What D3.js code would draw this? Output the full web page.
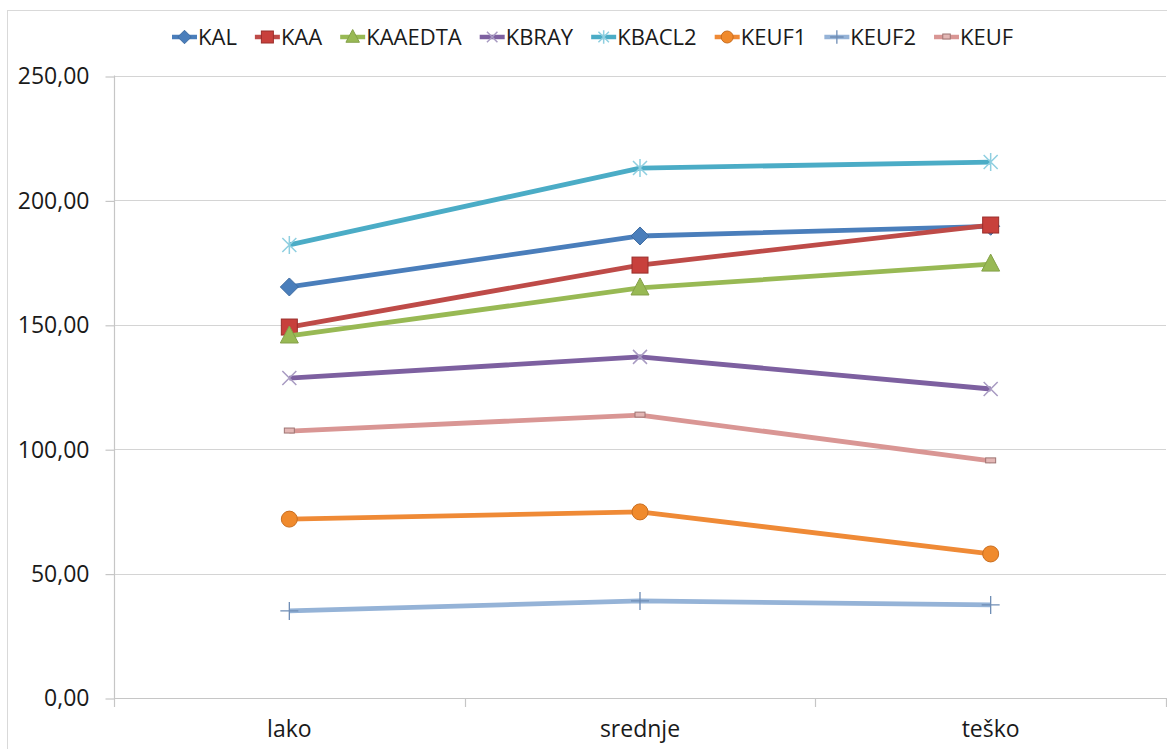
<!DOCTYPE html>
<html><head><meta charset="utf-8">
<script src="https://cdn.jsdelivr.net/npm/d3@7"></script>
<style>
body{margin:0;background:#fff;}
text{font-family:"Open Sans","Noto Sans",sans-serif;fill:#1a1a1a;}
</style></head>
<body>
<svg id="c" width="1167" height="749"></svg>
<script>
const categories = ["lako", "srednje", "teško"];
const seriesNames = ["KAL", "KAA", "KAAEDTA", "KBRAY", "KBACL2", "KEUF1", "KEUF2", "KEUF"];
const KAL     = [165.2, 185.7, 189.6];
const KAA     = [149.1, 174.0, 190.1];
const KAAEDTA = [145.5, 164.8, 174.4];
const KBRAY   = [128.6, 137.1, 124.2];
const KBACL2  = [182.1, 213.0, 215.4];
const KEUF1   = [71.9, 74.8, 57.9];
const KEUF2   = [35.0, 39.0, 37.4];
const KEUF    = [107.3, 113.7, 95.3];
const yTicks = [0, 50, 100, 150, 200, 250];

const values = [KAL, KAA, KAAEDTA, KBRAY, KBACL2, KEUF1, KEUF2, KEUF];
const colors = ["#4a7ebb", "#be4b48", "#98b954", "#7d60a0", "#4bacc6", "#ef8a36", "#95b3d7", "#d99694"];
const markers = ["diamond", "square", "triangle", "x", "star", "circle", "plus", "dash"];

const svg = d3.select("#c");
const L = 114, R = 1166, T = 76, B = 698;

svg.append("rect").attr("x", 7.5).attr("y", 10.5).attr("width", 1170).attr("height", 760)
  .attr("fill", "none").attr("stroke", "#d9d9d9").attr("stroke-width", 1);

const x = d3.scaleBand().domain(categories).range([L, R]);
const y = d3.scaleLinear().domain([0, 250]).range([B, T]);

svg.append("g").selectAll("line").data(yTicks.filter(d => d > 0)).join("line")
  .attr("x1", L).attr("x2", R).attr("y1", d => Math.round(y(d)) + 0.5).attr("y2", d => Math.round(y(d)) + 0.5)
  .attr("stroke", "#d4d4d4").attr("stroke-width", 1.2);

const yAxis = svg.append("g").attr("transform", `translate(${L + 0.5},0.5)`)
  .call(d3.axisLeft(y).tickValues(yTicks).tickSize(9).tickPadding(16)
    .tickFormat(d => d3.format(".2f")(d).replace(".", ",")));
yAxis.selectAll("path,line").attr("stroke", "#c6c6c6").attr("stroke-width", 1.2);
yAxis.select(".domain").attr("d", `M0,${T - 1}V${B}`);
yAxis.selectAll("text").attr("font-size", 23).style("fill", "#1a1a1a").attr("font-family", "Open Sans");

const xAxis = svg.append("g").attr("transform", `translate(0,${B + 0.5})`)
  .call(d3.axisBottom(x).tickSize(0).tickPadding(22));
xAxis.select(".domain").attr("d", `M${L},0H${R}`).attr("stroke", "#c6c6c6").attr("stroke-width", 1.2);
xAxis.selectAll("text").attr("font-size", 23).style("fill", "#1a1a1a").attr("font-family", "Open Sans");
const bounds = categories.map(c => x(c)).concat([R]);
svg.append("g").selectAll("line").data(bounds).join("line")
  .attr("x1", d => Math.round(d) + 0.5).attr("x2", d => Math.round(d) + 0.5)
  .attr("y1", B).attr("y2", B + 9).attr("stroke", "#c6c6c6").attr("stroke-width", 1.2);

function drawMarker(g, type, color, cx, cy, s) {
  const k = s || 1;
  if (type === "diamond") {
    g.append("path").attr("d", `M${cx},${cy - 9 * k}L${cx + 9 * k},${cy}L${cx},${cy + 9 * k}L${cx - 9 * k},${cy}Z`).attr("fill", color).attr("stroke", d3.color(color).darker(0.4));
  } else if (type === "square") {
    g.append("rect").attr("x", cx - 8 * k).attr("y", cy - 8 * k).attr("width", 16 * k).attr("height", 16 * k).attr("fill", "#c8403c").attr("stroke", "#9a2e2b");
  } else if (type === "triangle") {
    g.append("path").attr("d", `M${cx},${cy - 10 * k}L${cx + 9 * k},${cy + 7 * k}L${cx - 9 * k},${cy + 7 * k}Z`).attr("fill", color).attr("stroke", d3.color(color).darker(0.4));
  } else if (type === "x") {
    g.append("path").attr("d", `M${cx - 7 * k},${cy - 7 * k}L${cx + 7 * k},${cy + 7 * k}M${cx + 7 * k},${cy - 7 * k}L${cx - 7 * k},${cy + 7 * k}`).attr("stroke", "#a89bc2").attr("stroke-width", 1.5);
  } else if (type === "star") {
    g.append("path").attr("d", `M${cx - 7 * k},${cy - 7 * k}L${cx + 7 * k},${cy + 7 * k}M${cx + 7 * k},${cy - 7 * k}L${cx - 7 * k},${cy + 7 * k}M${cx},${cy - 9 * k}V${cy + 9 * k}`).attr("stroke", "#8fcfe0").attr("stroke-width", 1.5);
  } else if (type === "circle") {
    g.append("circle").attr("cx", cx).attr("cy", cy).attr("r", 8 * k).attr("fill", "#f08a2c").attr("stroke", "#c96d1e");
  } else if (type === "plus") {
    g.append("path").attr("d", `M${cx - 9 * k},${cy}H${cx + 9 * k}M${cx},${cy - 9 * k}V${cy + 9 * k}`).attr("stroke", "#6f8db5").attr("stroke-width", 1.3);
  } else if (type === "dash") {
    g.append("rect").attr("x", cx - 5 * k).attr("y", cy - 3).attr("width", 10 * k).attr("height", 5).attr("fill", "#e3b7b5").attr("stroke", "#9e7472").attr("stroke-width", 1);
  }
}

const line = d3.line().x((d, i) => x(categories[i]) + x.bandwidth() / 2).y(d => y(d));
values.forEach((vals, si) => {
  const g = svg.append("g");
  g.append("path").datum(vals).attr("d", line).attr("fill", "none")
    .attr("stroke", colors[si]).attr("stroke-width", 4.8).attr("stroke-linejoin", "round");
  vals.forEach((v, i) => drawMarker(g, markers[si], colors[si], x(categories[i]) + x.bandwidth() / 2, y(v)));
});

const lg = svg.append("g");
let lx = 172;
const ly = 37;
seriesNames.forEach((n, i) => {
  lg.append("line").attr("x1", lx).attr("x2", lx + 25).attr("y1", ly).attr("y2", ly)
    .attr("stroke", colors[i]).attr("stroke-width", 4.5);
  drawMarker(lg, markers[i], colors[i], lx + 12.5, ly, 0.75);
  const t = lg.append("text").attr("x", lx + 26).attr("y", ly + 8).attr("font-size", 22).text(n);
  lx += 26 + t.node().getComputedTextLength() + 18;
});
</script>
</body></html>
